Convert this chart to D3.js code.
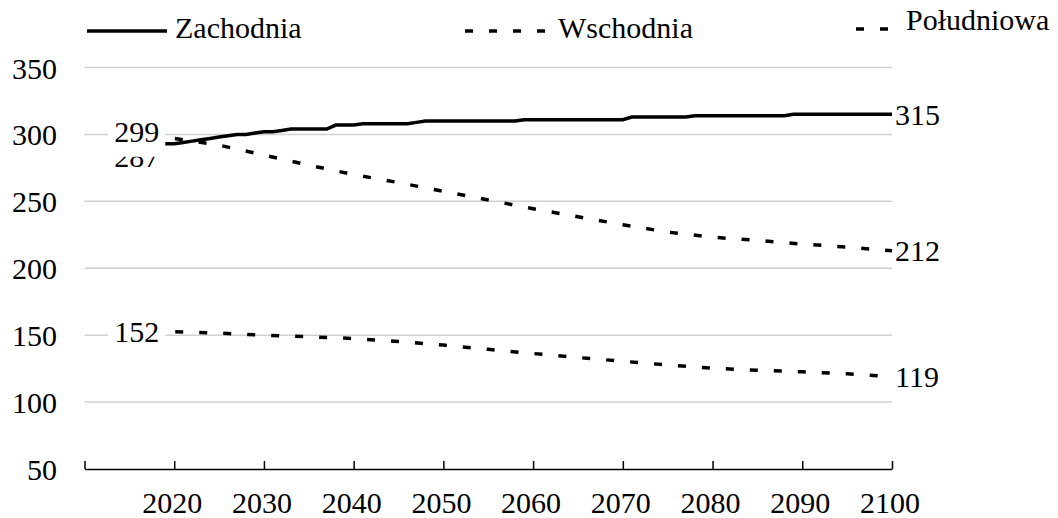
<!DOCTYPE html>
<html>
<head>
<meta charset="utf-8">
<script src="https://cdn.jsdelivr.net/npm/d3@7"></script>
<style>
  body { margin: 0; background: #fff; }
  svg { display: block; font-family: "Liberation Serif", "DejaVu Serif", serif; }
</style>
</head>
<body>
<svg id="chart" width="1058" height="518"></svg>
<script>
// data
const seriesNames = ["Zachodnia", "Wschodnia", "Południowa"];

const westYears = d3.range(2019, 2101);
const westValues = [
  293, 293, 294, 295, 296, 297, 298, 299, 300, 300,
  301, 302, 302, 303, 304, 304, 304, 304, 304, 307,
  307, 307, 308, 308, 308, 308, 308, 308, 309, 310,
  310, 310, 310, 310, 310, 310, 310, 310, 310, 310,
  311, 311, 311, 311, 311, 311, 311, 311, 311, 311,
  311, 311, 313, 313, 313, 313, 313, 313, 313, 314,
  314, 314, 314, 314, 314, 314, 314, 314, 314, 314,
  315, 315, 315, 315, 315, 315, 315, 315, 315, 315,
  315, 315
];

const otherYears = [2019, 2020, 2025, 2030, 2035, 2040, 2045, 2050, 2055,
  2060, 2065, 2070, 2075, 2080, 2085, 2090, 2095, 2100];
const eastValues = [299, 297, 292, 284.5, 277, 270, 264, 257.5, 251,
  244.5, 238.5, 232.5, 227, 223.2, 220.8, 218.1, 215.8, 213];
const southValues = [152, 152.5, 151.5, 150, 148.8, 147.5, 145.2, 142.6, 139.4,
  136.3, 133.3, 130.5, 127.7, 125.3, 123.8, 122.6, 121.1, 119];

const yTicks = [50, 100, 150, 200, 250, 300, 350];
const xTicks = [2010, 2020, 2030, 2040, 2050, 2060, 2070, 2080, 2090, 2100];
const xTickLabels = ["", "2020", "2030", "2040", "2050", "2060", "2070", "2080", "2090", "2100"];

const startLabels = ["287", "299", "152"];
const endLabels = ["315", "212", "119"];

const svg = d3.select("#chart");
const x = d3.scaleLinear().domain([2010, 2100]).range([84.5, 892]);
const y = d3.scaleLinear().domain([50, 350]).range([469, 67.5]);

const series = [
  { name: seriesNames[0], pts: westYears.map((yr, i) => [yr, westValues[i]]), dash: null },
  { name: seriesNames[1], pts: otherYears.map((yr, i) => [yr, eastValues[i]]), dash: "8,16" },
  { name: seriesNames[2], pts: otherYears.map((yr, i) => [yr, southValues[i]]), dash: "8,16" }
];

// gridlines
svg.append("g")
  .selectAll("line")
  .data(yTicks.filter(d => d > 50))
  .join("line")
  .attr("x1", x(2010)).attr("x2", x(2100))
  .attr("y1", d => y(d)).attr("y2", d => y(d))
  .attr("stroke", "#d0d0d0")
  .attr("stroke-width", 1.5);

// y labels
svg.append("g")
  .selectAll("text")
  .data(yTicks)
  .join("text")
  .attr("x", 57)
  .attr("y", d => y(d) + 11)
  .attr("text-anchor", "end")
  .attr("font-size", 30)
  .attr("fill", "#000")
  .text(d => d);

// x axis
const xAxis = d3.axisTop(x)
  .tickValues(xTicks)
  .tickSize(8)
  .tickSizeOuter(0)
  .tickFormat("");
const axisG = svg.append("g")
  .attr("transform", `translate(0,${y(50)})`)
  .call(xAxis);
axisG.select(".domain").attr("stroke", "#000").attr("stroke-width", 1.5);
axisG.selectAll(".tick line").attr("stroke", "#000").attr("stroke-width", 1.5);

svg.append("g")
  .selectAll("text")
  .data(xTicks)
  .join("text")
  .attr("x", d => x(d) - 2)
  .attr("y", 513)
  .attr("text-anchor", "middle")
  .attr("font-size", 30)
  .attr("fill", "#000")
  .text((d, i) => xTickLabels[i]);

// start labels (the Zachodnia one sits partly behind the Wschodnia box)
const startDy = [23, 6, 10];
series.forEach((s, i) => {
  const px = x(s.pts[0][0]);
  const base = y(s.pts[0][1]) + startDy[i];
  const g = svg.append("g");
  if (i > 0) {
    g.append("rect")
      .attr("x", px - 57).attr("y", base - 30)
      .attr("width", 57).attr("height", 45)
      .attr("fill", "#fff");
  }
  g.append("text")
    .attr("x", px - 6)
    .attr("y", base)
    .attr("text-anchor", "end")
    .attr("font-size", 30)
    .attr("fill", "#000")
    .text(startLabels[i]);
});

// lines
const line = d3.line().x(d => x(d[0])).y(d => y(d[1]));
series.forEach(s => {
  svg.append("path")
    .datum(s.pts)
    .attr("d", line)
    .attr("fill", "none")
    .attr("stroke", "#000")
    .attr("stroke-width", 3.5)
    .attr("stroke-dasharray", s.dash)
    .attr("stroke-dashoffset", s.dash ? 14 : null);
});

// end labels
series.forEach((s, i) => {
  const last = s.pts[s.pts.length - 1];
  svg.append("text")
    .attr("x", x(last[0]) + 3)
    .attr("y", y(last[1]) + 10.5)
    .attr("font-size", 30)
    .attr("fill", "#000")
    .text(endLabels[i]);
});

// legend
const legend = [
  { x1: 87, x2: 167, ly: 31, tx: 175, ty: 38, dash: null },
  { x1: 465, x2: 550, ly: 31, tx: 558, ty: 38, dash: "8,16" },
  { x1: 856, x2: 935, ly: 29, tx: 906, ty: 30, dash: "8,16" }
];
const lg = svg.append("g");
legend.forEach((l, i) => {
  lg.append("line")
    .attr("x1", l.x1).attr("x2", l.x2)
    .attr("y1", l.ly).attr("y2", l.ly)
    .attr("stroke", "#000")
    .attr("stroke-width", 3.5)
    .attr("stroke-dasharray", l.dash);
  if (i === 2) {
    lg.append("rect")
      .attr("x", l.tx - 3).attr("y", 4)
      .attr("width", 1058 - l.tx + 3).attr("height", 36)
      .attr("fill", "#fff");
  }
  lg.append("text")
    .attr("x", l.tx)
    .attr("y", l.ty)
    .attr("font-size", 30)
    .attr("fill", "#000")
    .text(seriesNames[i]);
});
</script>
</body>
</html>
